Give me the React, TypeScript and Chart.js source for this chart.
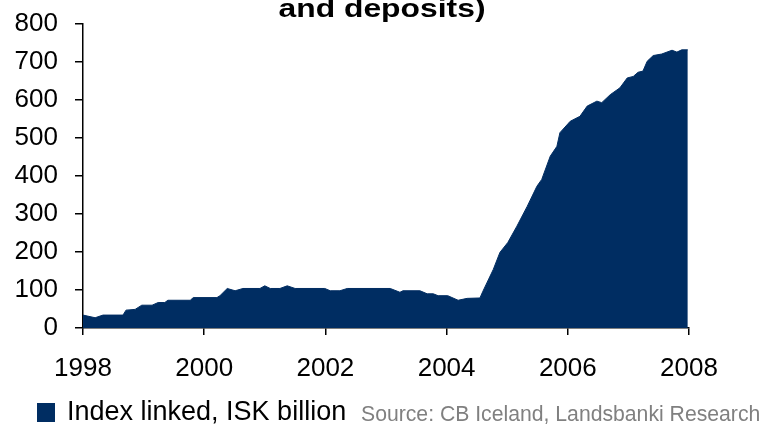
import React, { useEffect, useRef } from 'react';
import { Chart, registerables } from 'chart.js';

Chart.register(...registerables);

const titleText = 'and deposits)';
const seriesLabel = 'Index linked, ISK billion';
const sourceText = 'Source: CB Iceland, Landsbanki Research';

const dates = [
  1998.0, 1998.2, 1998.33, 1998.66, 1998.71, 1998.86, 1998.97, 1999.14, 1999.24, 1999.35,
  1999.4, 1999.77, 1999.82, 2000.21, 2000.26, 2000.38, 2000.51, 2000.64, 2000.92, 2001.0,
  2001.09, 2001.25, 2001.37, 2001.5, 2001.99, 2002.08, 2002.24, 2002.36, 2003.07, 2003.23,
  2003.28, 2003.56, 2003.68, 2003.78, 2003.86, 2004.02, 2004.19, 2004.34, 2004.55, 2004.6,
  2004.77, 2004.88, 2005.01, 2005.16, 2005.33, 2005.49, 2005.57, 2005.71, 2005.82, 2005.87,
  2006.04, 2006.2, 2006.32, 2006.48, 2006.56, 2006.7, 2006.86, 2006.98, 2007.08, 2007.16,
  2007.24, 2007.31, 2007.41, 2007.55, 2007.72, 2007.8, 2007.88, 2007.98,
];

const values = [
  34, 27, 34, 34, 47, 49, 60, 60, 67, 67,
  73, 73, 80, 80, 85, 104, 98, 104, 104, 111,
  104, 104, 111, 104, 104, 98, 98, 104, 104, 94,
  98, 98, 90, 90, 85, 85, 73, 78, 79, 97,
  154, 199, 225, 268, 320, 373, 391, 452, 478, 514,
  544, 557, 584, 597, 593, 614, 632, 658, 662, 673,
  676, 702, 717, 721, 731, 726, 732, 732,
];

const xMin = 1998;
const xMax = 2008;
const xStep = 2;
const yMin = 0;
const yMax = 800;
const yStep = 100;

const NAVY = '#002D62';
const FONT = "'Liberation Sans', Arial, Helvetica, sans-serif";

const textPlugin = {
  id: 'customText',
  afterDraw(chart: any) {
    const ctx = chart.ctx as CanvasRenderingContext2D;
    ctx.save();
    ctx.font = `bold 26px ${FONT}`;
    ctx.fillStyle = '#000';
    ctx.textAlign = 'center';
    ctx.textBaseline = 'alphabetic';
    const tw = ctx.measureText(titleText).width;
    const sx = 207 / tw;
    ctx.translate(382, 17);
    ctx.scale(sx, 1);
    ctx.fillText(titleText, 0, 0);
    ctx.restore();

    ctx.save();
    ctx.fillStyle = NAVY;
    ctx.fillRect(37, 403, 18, 19);
    ctx.fillStyle = '#000';
    ctx.font = `27px ${FONT}`;
    ctx.textAlign = 'left';
    ctx.textBaseline = 'alphabetic';
    ctx.fillText(seriesLabel, 67, 420);
    ctx.fillStyle = '#808080';
    ctx.font = `21.2px ${FONT}`;
    ctx.fillText(sourceText, 361, 421);
    ctx.restore();
  },
};

export default function App() {
  const ref = useRef<HTMLCanvasElement | null>(null);

  useEffect(() => {
    if (!ref.current) return;
    const data = dates.map((d, i) => ({ x: d, y: values[i] }));
    const chart = new Chart(ref.current, {
      type: 'line',
      data: {
        datasets: [
          {
            label: seriesLabel,
            data,
            fill: 'origin',
            backgroundColor: NAVY,
            borderColor: NAVY,
            borderWidth: 1,
            pointRadius: 0,
            tension: 0,
          },
        ],
      },
      options: {
        animation: false,
        responsive: false,
        devicePixelRatio: 1,
        layout: { padding: { left: 0, right: 77, top: 24, bottom: 46 } },
        plugins: {
          legend: { display: false },
          title: { display: false },
          tooltip: { enabled: false },
        },
        scales: {
          x: {
            type: 'linear',
            min: xMin,
            max: xMax,
            afterFit(scale: any) {
              scale.height = 50;
              scale.paddingLeft = 0;
              scale.paddingRight = 0;
            },
            border: { display: true, color: '#000', width: 1.5 },
            grid: {
              drawOnChartArea: false,
              drawTicks: true,
              tickLength: 7,
              color: '#000',
              lineWidth: 1.5,
            },
            ticks: {
              stepSize: xStep,
              color: '#000',
              font: { family: FONT, size: 26 },
              padding: 18,
              maxRotation: 0,
              callback: (v: any) => String(v),
            },
          },
          y: {
            min: yMin,
            max: yMax,
            afterFit(scale: any) {
              scale.width = 83;
              scale.paddingTop = 0;
              scale.paddingBottom = 0;
            },
            border: { display: true, color: '#000', width: 1.5 },
            grid: {
              drawOnChartArea: false,
              drawTicks: true,
              tickLength: 8,
              color: '#000',
              lineWidth: 1.5,
            },
            ticks: {
              stepSize: yStep,
              color: '#000',
              font: { family: FONT, size: 26 },
              padding: 17,
              callback: (v: any) => String(v),
            },
          },
        },
      },
      plugins: [textPlugin],
    });
    return () => chart.destroy();
  }, []);

  return (
    <div style={{ position: 'absolute', left: 0, top: 0, width: 766, height: 424, background: '#fff' }}>
      <canvas ref={ref} width={766} height={424} style={{ display: 'block' }} />
    </div>
  );
}
